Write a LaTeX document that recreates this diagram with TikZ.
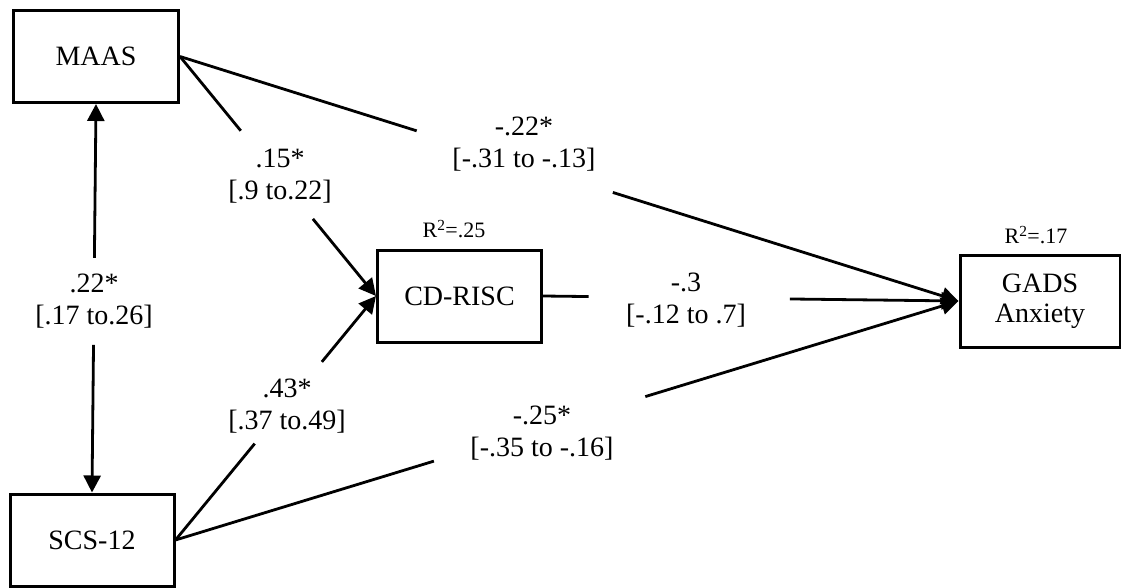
\documentclass[tikz,border=0pt]{standalone}
\usepackage{fontspec}
\setmainfont{Liberation Serif}
\usetikzlibrary{arrows.meta,calc}
\begin{document}
\begin{tikzpicture}[x=1pt,y=-1pt,
  box/.style={draw, line width=3pt, inner sep=0pt, minimum width=165pt, minimum height=92pt, align=center, font=\fontsize{28}{30}\selectfont},
  conn/.style={line width=2.8pt},
  arr/.style={conn, -{Triangle[length=17pt,width=17pt]}},
  lab/.style={align=center, inner sep=0pt, font=\fontsize{28}{32}\selectfont},
  rlab/.style={inner sep=0pt, font=\fontsize{22}{24}\selectfont}]
\useasboundingbox (0,0) rectangle (1121,588);
\clip (0,0) rectangle (1121,588);
\fill[white] (0,0) rectangle (1121,588);
% boxes
\node[box] (maas) at (96,56.5) {MAAS};
\node[box, minimum width=164pt] (scs) at (92,540) {SCS-12};
\node[box, minimum width=164pt] (cd) at (459.5,296) {CD-RISC};
\node[box, minimum width=160pt] (gads) at (1040,301) {GADS\\Anxiety};
% R2 labels
\node[rlab] (r1) at (454,229) {R\textsuperscript{2}=.25};
\node[rlab] (r2) at (1036,235) {R\textsuperscript{2}=.17};
% path labels
\node[lab] (l1) at (94,301) {.22*\\{}[.17 to.26]};
\node[lab] (l2) at (280,176) {.15*\\{}[.9 to.22]};
\node[lab] (l3) at (524,144) {-.22*\\{}[-.31 to -.13]};
\node[lab] (l4) at (686,300) {-.3\\{}[-.12 to .7]};
\node[lab] (l5) at (287,406) {.43*\\{}[.37 to.49]};
\node[lab] (l6) at (542,433) {-.25*\\{}[-.35 to -.16]};
% correlation MAAS <-> SCS
\draw[arr] ($(maas.south)!0.396!(scs.north)$) -- (maas.south);
\draw[arr] ($(maas.south)!0.62!(scs.north)$) -- (scs.north);
% MAAS -> CD-RISC
\draw[conn] (maas.east) -- ($(maas.east)!0.31!(cd.west)$);
\draw[arr] ($(maas.east)!0.678!(cd.west)$) -- (cd.west);
% MAAS -> GADS
\draw[conn] (maas.east) -- ($(maas.east)!0.304!(gads.west)$);
\draw[arr] ($(maas.east)!0.556!(gads.west)$) -- (gads.west);
% CD-RISC -> GADS
\draw[conn] (cd.east) -- ($(cd.east)!0.11!(gads.west)$);
\draw[arr] ($(cd.east)!0.594!(gads.west)$) -- (gads.west);
% SCS -> CD-RISC
\draw[conn] (scs.east) -- ($(scs.east)!0.395!(cd.west)$);
\draw[arr] ($(scs.east)!0.73!(cd.west)$) -- (cd.west);
% SCS -> GADS
\draw[conn] (scs.east) -- ($(scs.east)!0.33!(gads.west)$);
\draw[arr] ($(scs.east)!0.60!(gads.west)$) -- (gads.west);
\end{tikzpicture}
\end{document}
